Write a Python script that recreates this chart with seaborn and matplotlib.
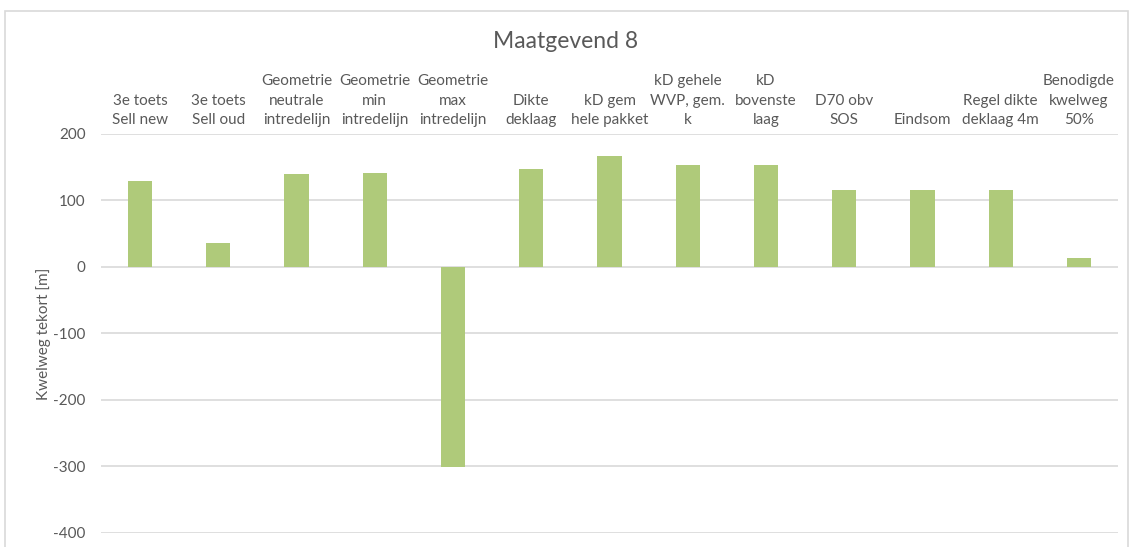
import matplotlib
matplotlib.use("Agg")
import matplotlib.pyplot as plt
import seaborn as sns
import pandas as pd
from matplotlib.patches import Rectangle

# Scenario names and the resulting seepage-length shortfall (m)
categories = [
    "3e toets Sell new", "3e toets Sell oud", "Geometrie neutrale intredelijn",
    "Geometrie min intredelijn", "Geometrie max intredelijn", "Dikte deklaag",
    "kD gem hele pakket", "kD gehele WVP, gem. k", "kD bovenste laag",
    "D70 obv SOS", "Eindsom", "Regel dikte deklaag 4m", "Benodigde kwelweg 50%",
]
values = [130, 36, 140, 141, -301, 147, 167, 154, 154, 116, 116, 116, 14]
tick_labels = [
    "3e toets\nSell new", "3e toets\nSell oud", "Geometrie\nneutrale\nintredelijn",
    "Geometrie\nmin\nintredelijn", "Geometrie\nmax\nintredelijn", "Dikte\ndeklaag",
    "kD gem\nhele pakket", "kD gehele\nWVP, gem.\nk", "kD\nbovenste\nlaag",
    "D70 obv\nSOS", "Eindsom", "Regel dikte\ndeklaag 4m", "Benodigde\nkwelweg\n50%",
]
y_ticks = [-400, -300, -200, -100, 0, 100, 200]

sns.set_theme(style="white")
plt.rcParams["font.family"] = ["Lato", "DejaVu Sans"]
plt.rcParams["axes.unicode_minus"] = False

text_grey = "#595959"
grid_grey = "#d9d9d9"
bar_green = "#AFCA7A"

df = pd.DataFrame({"scenario": categories, "tekort": values})

fig = plt.figure(figsize=(11.33, 5.47), dpi=100)
ax = fig.add_axes([101 / 1133, 1 - 533 / 547, (1118 - 101) / 1133, (533 - 134) / 547])

sns.barplot(data=df, x="scenario", y="tekort", order=categories,
            color=bar_green, saturation=1, width=0.31, linewidth=0,
            ax=ax, zorder=3)

ax.set_ylim(-400, 200)
ax.set_yticks(y_ticks)
ax.set_xlim(-0.5, len(categories) - 0.5)
ax.yaxis.grid(True, color=grid_grey, linewidth=1.2, zorder=0)
ax.xaxis.grid(False)
for side in ["top", "bottom", "left", "right"]:
    ax.spines[side].set_visible(False)

ax.xaxis.tick_top()
ax.set_xticks(range(len(categories)))
ax.set_xticklabels(tick_labels, fontsize=11, color=text_grey, linespacing=1.5)
ax.tick_params(axis="x", length=0, pad=5)
ax.tick_params(axis="y", length=0, labelsize=11, labelcolor=text_grey, pad=11)
ax.set_xlabel("")
ax.set_ylabel("Kwelweg tekort [m]", fontsize=11, color=text_grey, labelpad=2)

fig.text(566 / 1133, 1 - 42 / 547, "Maatgevend 8", ha="center", va="center",
         fontsize=16.5, color=text_grey)

# Chart-area frame
fig.patches.append(Rectangle((5 / 1133, -0.05), 1123 / 1133, 1.03,
                             transform=fig.transFigure, fill=False,
                             edgecolor=grid_grey, linewidth=1.2))

fig.savefig("out.png", dpi=100, facecolor="white")
